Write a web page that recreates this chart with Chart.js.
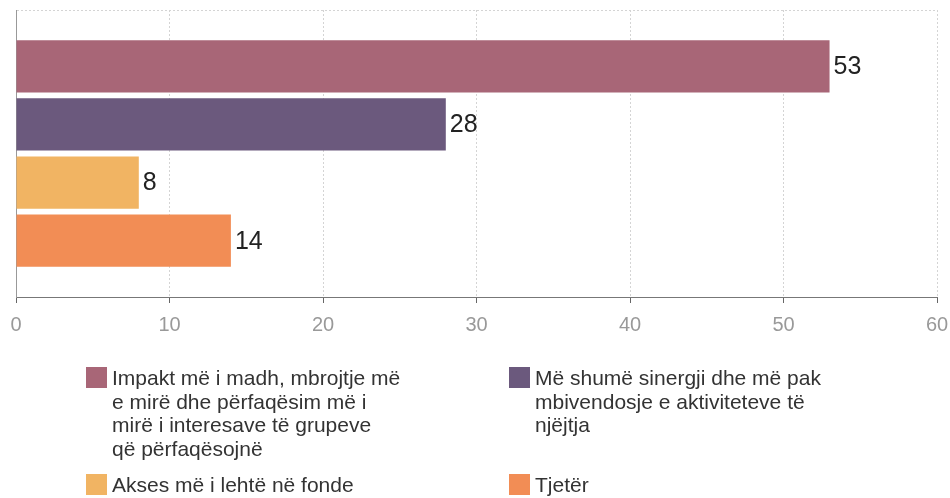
<!DOCTYPE html>
<html>
<head>
<meta charset="utf-8">
<script src="https://cdn.jsdelivr.net/npm/chart.js@4/dist/chart.umd.min.js"></script>
<style>
  html, body { margin: 0; padding: 0; background: #fff; }
  #wrap { position: relative; width: 950px; height: 498px; overflow: hidden; }
  #c { position: absolute; left: 0; top: 0; }
  .leg { position: absolute; font-family: "Liberation Sans", Arial, sans-serif; font-size: 21px; line-height: 23.6px; color: #333; }
  .leg .box { position: absolute; left: 0; top: 1px; width: 21px; height: 21px; }
  .leg .txt { position: absolute; left: 26px; top: 0; white-space: nowrap; }
</style>
</head>
<body>
<div id="wrap">
  <canvas id="c" width="950" height="498"></canvas>
  <div id="legend"></div>
</div>
<script>
// ---- data ----
const categories = [''];
const seriesNames = [
  ['Impakt më i madh, mbrojtje më', 'e mirë dhe përfaqësim më i', 'mirë i interesave të grupeve', 'që përfaqësojnë'],
  ['Më shumë sinergji dhe më pak', 'mbivendosje e aktiviteteve të', 'njëjtja'],
  ['Akses më i lehtë në fonde'],
  ['Tjetër']
];
const seriesValues = [53, 28, 8, 14];
const seriesColors = ['#a86677', '#6b597d', '#f1b463', '#f28d55'];
const xTicks = [0, 10, 20, 30, 40, 50, 60];

// ---- chart ----
const datasets = seriesValues.map((v, i) => ({
  label: seriesNames[i].join(' '),
  data: [v],
  backgroundColor: seriesColors[i],
  borderWidth: 0,
  categoryPercentage: 0.81,
  barPercentage: 0.9
}));

const valueLabels = {
  id: 'valueLabels',
  afterDatasetsDraw(chart) {
    const ctx = chart.ctx;
    ctx.save();
    ctx.font = '25px "Liberation Sans", Arial, sans-serif';
    ctx.fillStyle = '#222';
    ctx.textAlign = 'left';
    ctx.textBaseline = 'middle';
    chart.data.datasets.forEach((ds, i) => {
      const meta = chart.getDatasetMeta(i);
      meta.data.forEach((bar, j) => {
        ctx.fillText(String(ds.data[j]), bar.x + 4, bar.y + 1);
      });
    });
    ctx.restore();
  }
};

new Chart(document.getElementById('c'), {
  type: 'bar',
  data: { labels: categories, datasets },
  options: {
    indexAxis: 'y',
    responsive: false,
    animation: false,
    devicePixelRatio: 1,
    layout: { padding: { left: 16, right: 13, top: 10, bottom: 151 } },
    plugins: { legend: { display: false }, tooltip: { enabled: false } },
    scales: {
      x: {
        min: xTicks[0],
        max: xTicks[xTicks.length - 1],
        afterBuildTicks(scale) { scale.ticks = xTicks.map(v => ({ value: v })); },
        afterFit(scale) { scale.paddingLeft = 0; scale.paddingRight = 0; },
        grid: { color: '#d4d4d4', lineWidth: 1, tickLength: 6, tickColor: '#666', tickBorderDash: [] },
        border: { display: true, color: '#777', width: 1, dash: [2, 2] },
        ticks: { color: '#999', padding: 10, font: { family: '"Liberation Sans", Arial, sans-serif', size: 20 } }
      },
      y: {
        grid: { color: '#d4d4d4', drawTicks: false },
        border: { display: true, color: '#999', width: 1, dash: [2, 2] },
        ticks: { display: false }
      }
    }
  },
  plugins: [valueLabels]
});

// ---- legend (HTML, built from the arrays) ----
const legendPos = [
  { left: 86, top: 366 }, { left: 509, top: 366 },
  { left: 86, top: 473 }, { left: 509, top: 473 }
];
const legEl = document.getElementById('legend');
seriesNames.forEach((lines, i) => {
  const d = document.createElement('div');
  d.className = 'leg';
  d.style.left = legendPos[i].left + 'px';
  d.style.top = legendPos[i].top + 'px';
  const b = document.createElement('div');
  b.className = 'box';
  b.style.background = seriesColors[i];
  const t = document.createElement('div');
  t.className = 'txt';
  lines.forEach((ln, k) => {
    if (k) t.appendChild(document.createElement('br'));
    t.appendChild(document.createTextNode(ln));
  });
  d.appendChild(b);
  d.appendChild(t);
  legEl.appendChild(d);
});
</script>
</body>
</html>
